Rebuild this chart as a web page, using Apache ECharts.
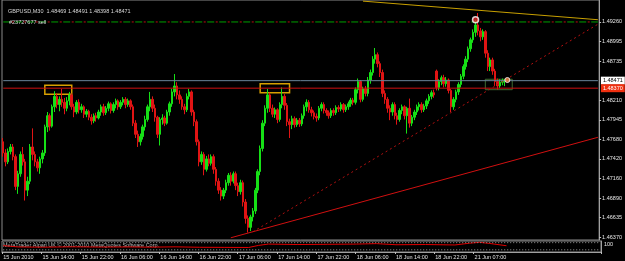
<!DOCTYPE html>
<html>
<head>
<meta charset="utf-8">
<script src="https://cdn.jsdelivr.net/npm/echarts@6/dist/echarts.min.js"></script>
<style>
    html, body {
        margin: 0;
        padding: 0;
        background: #000000;
    }
    .bar {
        width: 625px;
        height: 261px;
    }
</style>
</head>
<body>
<div class="bar" id="barRef"></div>
<script>
// GBPUSD M30 candles: [open, close, low, high]
var candles = [
    [1.4765, 1.4750, 1.4745, 1.4770], [1.4750, 1.4738, 1.4732, 1.4755], [1.4738, 1.4752, 1.4735, 1.4756], [1.4752, 1.4758, 1.4748, 1.4762],
    [1.4758, 1.4745, 1.4740, 1.4762], [1.4745, 1.4705, 1.4700, 1.4748], [1.4705, 1.4722, 1.4695, 1.4726], [1.4722, 1.4748, 1.4718, 1.4752],
    [1.4748, 1.4738, 1.4733, 1.4758], [1.4738, 1.4700, 1.4686, 1.4742], [1.4700, 1.4712, 1.4692, 1.4718], [1.4712, 1.4758, 1.4708, 1.4762],
    [1.4758, 1.4748, 1.4740, 1.4783], [1.4748, 1.4738, 1.4732, 1.4752], [1.4738, 1.4730, 1.4725, 1.4742], [1.4730, 1.4742, 1.4722, 1.4745],
    [1.4742, 1.4750, 1.4736, 1.4754], [1.4750, 1.4785, 1.4746, 1.4788], [1.4785, 1.4800, 1.4778, 1.4805], [1.4800, 1.4786, 1.4780, 1.4803],
    [1.4786, 1.4812, 1.4784, 1.4815], [1.4812, 1.4826, 1.4805, 1.4833], [1.4826, 1.4815, 1.4810, 1.4830], [1.4815, 1.4822, 1.4806, 1.4826],
    [1.4822, 1.4818, 1.4812, 1.4836], [1.4818, 1.4810, 1.4802, 1.4824], [1.4810, 1.4820, 1.4806, 1.4825], [1.4820, 1.4828, 1.4814, 1.4832],
    [1.4828, 1.4812, 1.4808, 1.4830], [1.4812, 1.4805, 1.4798, 1.4816], [1.4805, 1.4818, 1.4802, 1.4821], [1.4818, 1.4808, 1.4803, 1.4822],
    [1.4808, 1.4812, 1.4804, 1.4816], [1.4812, 1.4802, 1.4797, 1.4814], [1.4802, 1.4806, 1.4798, 1.4809], [1.4806, 1.4798, 1.4794, 1.4808],
    [1.4798, 1.4793, 1.4788, 1.4802], [1.4793, 1.4800, 1.4790, 1.4803], [1.4800, 1.4797, 1.4792, 1.4804], [1.4797, 1.4805, 1.4795, 1.4808],
    [1.4805, 1.4812, 1.4800, 1.4815], [1.4812, 1.4804, 1.4800, 1.4816], [1.4804, 1.4810, 1.4801, 1.4813], [1.4810, 1.4816, 1.4806, 1.4819],
    [1.4816, 1.4807, 1.4803, 1.4818], [1.4807, 1.4815, 1.4804, 1.4818], [1.4815, 1.4820, 1.4810, 1.4823], [1.4820, 1.4812, 1.4808, 1.4822],
    [1.4812, 1.4818, 1.4809, 1.4821], [1.4818, 1.4822, 1.4814, 1.4825], [1.4822, 1.4815, 1.4810, 1.4825], [1.4815, 1.4820, 1.4812, 1.4823],
    [1.4820, 1.4812, 1.4808, 1.4822], [1.4812, 1.4790, 1.4786, 1.4815], [1.4790, 1.4775, 1.4770, 1.4794], [1.4775, 1.4765, 1.4758, 1.4780],
    [1.4765, 1.4772, 1.4760, 1.4776], [1.4772, 1.4785, 1.4768, 1.4788], [1.4785, 1.4795, 1.4780, 1.4800], [1.4795, 1.4812, 1.4792, 1.4815],
    [1.4812, 1.4822, 1.4806, 1.4832], [1.4822, 1.4810, 1.4805, 1.4826], [1.4810, 1.4798, 1.4792, 1.4815], [1.4798, 1.4775, 1.4770, 1.4800],
    [1.4775, 1.4795, 1.4760, 1.4798], [1.4795, 1.4797, 1.4788, 1.4802], [1.4797, 1.4790, 1.4786, 1.4800], [1.4790, 1.4805, 1.4788, 1.4808],
    [1.4805, 1.4816, 1.4800, 1.4819], [1.4816, 1.4832, 1.4812, 1.4836], [1.4832, 1.4840, 1.4826, 1.4856], [1.4840, 1.4828, 1.4822, 1.4845],
    [1.4828, 1.4822, 1.4816, 1.4834], [1.4822, 1.4812, 1.4808, 1.4826], [1.4812, 1.4808, 1.4802, 1.4816], [1.4808, 1.4826, 1.4805, 1.4830],
    [1.4826, 1.4832, 1.4822, 1.4836], [1.4832, 1.4805, 1.4800, 1.4834], [1.4805, 1.4792, 1.4786, 1.4808], [1.4792, 1.4765, 1.4760, 1.4795],
    [1.4765, 1.4738, 1.4732, 1.4768], [1.4738, 1.4748, 1.4734, 1.4752], [1.4748, 1.4728, 1.4720, 1.4751], [1.4728, 1.4742, 1.4725, 1.4746],
    [1.4742, 1.4736, 1.4732, 1.4748], [1.4736, 1.4745, 1.4733, 1.4748], [1.4745, 1.4728, 1.4722, 1.4748], [1.4728, 1.4712, 1.4706, 1.4731],
    [1.4712, 1.4700, 1.4695, 1.4716], [1.4700, 1.4692, 1.4686, 1.4704], [1.4692, 1.4700, 1.4688, 1.4703], [1.4700, 1.4710, 1.4696, 1.4714],
    [1.4710, 1.4720, 1.4706, 1.4723], [1.4720, 1.4712, 1.4706, 1.4724], [1.4712, 1.4722, 1.4709, 1.4725], [1.4722, 1.4706, 1.4700, 1.4725],
    [1.4706, 1.4698, 1.4692, 1.4710], [1.4698, 1.4710, 1.4694, 1.4714], [1.4710, 1.4684, 1.4678, 1.4713], [1.4684, 1.4662, 1.4655, 1.4688],
    [1.4662, 1.4650, 1.4643, 1.4666], [1.4650, 1.4664, 1.4645, 1.4667], [1.4664, 1.4672, 1.4658, 1.4676], [1.4672, 1.4700, 1.4668, 1.4703],
    [1.4700, 1.4725, 1.4696, 1.4728], [1.4725, 1.4756, 1.4720, 1.4760], [1.4756, 1.4790, 1.4752, 1.4794], [1.4790, 1.4810, 1.4786, 1.4814],
    [1.4810, 1.4828, 1.4804, 1.4836], [1.4828, 1.4810, 1.4805, 1.4831], [1.4810, 1.4802, 1.4798, 1.4815], [1.4802, 1.4808, 1.4797, 1.4811],
    [1.4808, 1.4795, 1.4790, 1.4810], [1.4795, 1.4815, 1.4792, 1.4818], [1.4815, 1.4826, 1.4810, 1.4838], [1.4826, 1.4814, 1.4808, 1.4829],
    [1.4814, 1.4792, 1.4786, 1.4817], [1.4792, 1.4788, 1.4770, 1.4796], [1.4788, 1.4796, 1.4782, 1.4800], [1.4796, 1.4788, 1.4784, 1.4799],
    [1.4788, 1.4794, 1.4785, 1.4797], [1.4794, 1.4789, 1.4785, 1.4797], [1.4789, 1.4800, 1.4786, 1.4803], [1.4800, 1.4812, 1.4796, 1.4815],
    [1.4812, 1.4818, 1.4806, 1.4822], [1.4818, 1.4808, 1.4804, 1.4821], [1.4808, 1.4804, 1.4799, 1.4812], [1.4804, 1.4799, 1.4795, 1.4807],
    [1.4799, 1.4797, 1.4792, 1.4803], [1.4797, 1.4810, 1.4794, 1.4813], [1.4810, 1.4815, 1.4806, 1.4818], [1.4815, 1.4807, 1.4803, 1.4818],
    [1.4807, 1.4804, 1.4800, 1.4810], [1.4804, 1.4800, 1.4796, 1.4807], [1.4800, 1.4807, 1.4797, 1.4810], [1.4807, 1.4804, 1.4800, 1.4810],
    [1.4804, 1.4811, 1.4801, 1.4814], [1.4811, 1.4809, 1.4805, 1.4814], [1.4809, 1.4815, 1.4806, 1.4818], [1.4815, 1.4808, 1.4804, 1.4817],
    [1.4808, 1.4812, 1.4805, 1.4815], [1.4812, 1.4816, 1.4808, 1.4819], [1.4816, 1.4821, 1.4812, 1.4824], [1.4821, 1.4818, 1.4814, 1.4824],
    [1.4818, 1.4835, 1.4815, 1.4838], [1.4835, 1.4846, 1.4830, 1.4850], [1.4846, 1.4822, 1.4818, 1.4848], [1.4822, 1.4836, 1.4819, 1.4839],
    [1.4836, 1.4830, 1.4826, 1.4840], [1.4830, 1.4848, 1.4826, 1.4852], [1.4848, 1.4858, 1.4843, 1.4862], [1.4858, 1.4876, 1.4854, 1.4880],
    [1.4876, 1.4882, 1.4870, 1.4891], [1.4882, 1.4870, 1.4865, 1.4885], [1.4870, 1.4858, 1.4852, 1.4873], [1.4858, 1.4830, 1.4825, 1.4862],
    [1.4830, 1.4822, 1.4816, 1.4834], [1.4822, 1.4810, 1.4804, 1.4825], [1.4810, 1.4805, 1.4794, 1.4814], [1.4805, 1.4815, 1.4800, 1.4818],
    [1.4815, 1.4800, 1.4795, 1.4818], [1.4800, 1.4795, 1.4788, 1.4804], [1.4795, 1.4807, 1.4792, 1.4810], [1.4807, 1.4812, 1.4802, 1.4815],
    [1.4812, 1.4800, 1.4795, 1.4814], [1.4800, 1.4810, 1.4776, 1.4812], [1.4810, 1.4790, 1.4784, 1.4823], [1.4790, 1.4798, 1.4786, 1.4801],
    [1.4798, 1.4805, 1.4794, 1.4808], [1.4805, 1.4812, 1.4801, 1.4815], [1.4812, 1.4815, 1.4807, 1.4818], [1.4815, 1.4808, 1.4804, 1.4818],
    [1.4808, 1.4813, 1.4805, 1.4816], [1.4813, 1.4820, 1.4809, 1.4823], [1.4820, 1.4826, 1.4816, 1.4829], [1.4826, 1.4831, 1.4822, 1.4834],
    [1.4831, 1.4828, 1.4824, 1.4835], [1.4860, 1.4838, 1.4834, 1.4862], [1.4838, 1.4846, 1.4834, 1.4849], [1.4846, 1.4851, 1.4841, 1.4854],
    [1.4851, 1.4843, 1.4838, 1.4855], [1.4843, 1.4848, 1.4839, 1.4852], [1.4848, 1.4834, 1.4830, 1.4850], [1.4834, 1.4812, 1.4805, 1.4836],
    [1.4812, 1.4822, 1.4808, 1.4825], [1.4822, 1.4832, 1.4818, 1.4835], [1.4832, 1.4842, 1.4828, 1.4845], [1.4842, 1.4853, 1.4838, 1.4856],
    [1.4853, 1.4866, 1.4849, 1.4869], [1.4866, 1.4876, 1.4862, 1.4880], [1.4876, 1.4890, 1.4872, 1.4893], [1.4890, 1.4902, 1.4886, 1.4905],
    [1.4902, 1.4912, 1.4898, 1.4916], [1.4912, 1.4922, 1.4906, 1.4929], [1.4922, 1.4914, 1.4908, 1.4938], [1.4914, 1.4906, 1.4900, 1.4918],
    [1.4906, 1.4913, 1.4902, 1.4916], [1.4913, 1.4884, 1.4878, 1.4915], [1.4884, 1.4866, 1.4860, 1.4888], [1.4866, 1.4875, 1.4860, 1.4878],
    [1.4875, 1.4860, 1.4855, 1.4878], [1.4860, 1.4846, 1.4840, 1.4863], [1.4846, 1.4840, 1.4835, 1.4850], [1.4840, 1.4845, 1.4837, 1.4849],
    [1.4845, 1.4847, 1.4841, 1.4850], [1.48469, 1.48471, 1.48398, 1.48491]
];

// empty bars on the right (chart shift)
var shiftBars = 38;

// time scale labels, one every 16 bars
var tickLabels = ["15 Jun 2010", "15 Jun 14:00", "15 Jun 22:00", "16 Jun 06:00", "16 Jun 14:00", "16 Jun 22:00",
    "17 Jun 06:00", "17 Jun 14:00", "17 Jun 22:00", "18 Jun 06:00", "18 Jun 14:00", "18 Jun 22:00", "21 Jun 07:00"];
var barsPerTick = 16;

// price scale labels
var priceTicks = [1.46370, 1.46635, 1.46890, 1.47160, 1.47420, 1.47680, 1.47945, 1.48210, 1.48735, 1.48995, 1.49260];

var bidPrice = 1.48471;
var alertPrice = 1.48370;
var orderPrice = 1.49260;
var orderName = "#23727677 sell";

// trend lines [[bar, price], [bar, price]]
var yellowTrend = [[147, 1.4954], [243, 1.4929]];
var dottedTrend = [[102, 1.4644], [243, 1.4923]];
var redTrend = [[93, 1.4636], [243, 1.4771]];

// rectangles [[bar, price], [bar, price]]
var goldBoxes = [[[17, 1.4841], [28, 1.4829]], [[105, 1.4843], [117, 1.4831]]];
var greenBox = [[197, 1.4849], [208, 1.4835]];

// arrow marks
var orderMarks = [[193, 1.4929]];
var closeMarks = [[206, 1.4848]];

// lower window indicator [bar, value]
var indicator = [[0, 58], [6, 46], [16, 44], [28, 47], [40, 45], [52, 46], [60, 44], [70, 47], [80, 43], [90, 42],
    [100, 41], [104, 60], [108, 72], [120, 68], [132, 70], [144, 72], [152, 76], [160, 66], [172, 68], [184, 64],
    [190, 80], [194, 88], [198, 78], [205, 57]];
var indicatorLevels = [85, 20];

var titleText = "GBPUSD,M30  1.48469 1.48491 1.48398 1.48471";
var copyText = "MetaTrader Alpari UK \u00a9 2001-2010 MetaQuotes Software Corp.";

var categories = [];
for (var i = 0; i < candles.length + shiftBars; i++) {
    categories.push(i);
}
var lastCat = categories.length - 1;

var font = "Liberation Sans";
var fs = 5.5;

// a horizontal line across the whole main window
function hLine(price, lineStyle, extra) {
    var s = {
        type: 'line', xAxisIndex: 0, yAxisIndex: 0, silent: true,
        data: [[0, price], [lastCat, price]],
        symbol: 'none',
        lineStyle: lineStyle
    };
    for (var k in extra) s[k] = extra[k];
    return s;
}

var option = {
    backgroundColor: '#000000',
    animation: false,
    title: [
        {
            text: titleText, left: 3, top: 3,
            textStyle: { color: '#d8d8d8', fontSize: fs, fontWeight: 'normal', fontFamily: font }
        },
        {
            text: orderName, left: 4, top: 14,
            textStyle: { color: '#d8d8d8', fontSize: fs, fontWeight: 'normal', fontFamily: font }
        }
    ],
    graphic: [{
        type: 'text',
        left: 3,
        top: 242,
        style: { text: copyText, fill: '#b8b8b8', fontSize: fs, fontFamily: font }
    }],
    grid: [
        { left: 2, right: 24, top: 0, height: 240, show: true, borderColor: '#8a8a8a', borderWidth: 1 },
        { left: 2, right: 24, top: 241, height: 11, show: true, borderColor: '#8a8a8a', borderWidth: 1 }
    ],
    xAxis: [
        {
            type: 'category', gridIndex: 0, data: categories, boundaryGap: true,
            axisLine: { show: false }, axisTick: { show: false }, axisLabel: { show: false }
        },
        {
            type: 'category', gridIndex: 1, data: categories, boundaryGap: true,
            axisLine: { show: true, lineStyle: { color: '#a0a0a0' } },
            axisTick: {
                show: true, length: 2, lineStyle: { color: '#c0c0c0' },
                interval: function (idx) {
                    return idx % barsPerTick === 0 && idx / barsPerTick < tickLabels.length;
                }
            },
            axisLabel: {
                interval: 0, align: 'left', margin: 2, color: '#e0e0e0', fontSize: fs, fontFamily: font,
                formatter: function (v, idx) {
                    if (idx % barsPerTick !== 0) return '';
                    return tickLabels[idx / barsPerTick] || '';
                }
            }
        }
    ],
    yAxis: [
        {
            type: 'value', gridIndex: 0, position: 'right', min: 1.4633, max: 1.49555,
            splitLine: { show: false },
            axisLine: { show: true, lineStyle: { color: '#a0a0a0' } },
            axisTick: { show: true, length: 2, customValues: priceTicks, lineStyle: { color: '#c0c0c0' } },
            axisLabel: {
                customValues: priceTicks, margin: 3, color: '#e8e8e8', fontSize: fs, fontFamily: font,
                formatter: function (v) { return v.toFixed(5); }
            }
        },
        {
            type: 'value', gridIndex: 1, position: 'right', min: 0, max: 100,
            splitLine: { show: false },
            axisLine: { show: true, lineStyle: { color: '#a0a0a0' } },
            axisTick: { show: false },
            axisLabel: {
                customValues: [100], margin: 3, color: '#e8e8e8', fontSize: fs, fontFamily: font,
                verticalAlign: 'top'
            }
        }
    ],
    series: [
        hLine(orderPrice, { color: '#00a000', width: 1, type: [7, 5] }),
        hLine(orderPrice, { color: '#c01010', width: 1, type: [2, 10], dashOffset: -8.5 }),
        hLine(bidPrice, { color: '#6a8499', width: 1 }, {
            endLabel: {
                show: true, distance: 3, formatter: bidPrice.toFixed(5),
                backgroundColor: '#ffffff', color: '#000000', padding: [1, 2],
                fontSize: fs, fontFamily: font
            }
        }),
        hLine(alertPrice, { color: '#d01010', width: 1 }, {
            symbol: 'rect', symbolSize: 4, showSymbol: true,
            itemStyle: { color: '#f04030', borderColor: '#ffffff', borderWidth: 1 },
            endLabel: {
                show: true, distance: 3, formatter: alertPrice.toFixed(5),
                backgroundColor: '#f03010', color: '#ffffff', padding: [1, 2],
                fontSize: fs, fontFamily: font
            }
        }),
        {
            name: 'GBPUSD',
            type: 'candlestick',
            xAxisIndex: 0, yAxisIndex: 0,
            data: candles,
            barWidth: 2,
            itemStyle: {
                color: '#16e016', color0: '#e01414',
                borderColor: '#16e016', borderColor0: '#e01414', borderWidth: 1
            },
            markArea: {
                silent: true,
                data: goldBoxes.map(function (b) {
                    return [
                        { coord: b[0], itemStyle: { color: 'rgba(0,0,0,0)', borderColor: '#d8a000', borderWidth: 1.5 } },
                        { coord: b[1] }
                    ];
                }).concat([[
                    { coord: greenBox[0], itemStyle: { color: 'rgba(0,0,0,0)', borderColor: '#3c6a30', borderWidth: 1 } },
                    { coord: greenBox[1] }
                ]])
            }
        },
        {
            type: 'line', xAxisIndex: 0, yAxisIndex: 0, data: yellowTrend, symbol: 'none', silent: true,
            lineStyle: { color: '#c8a000', width: 1 }
        },
        {
            type: 'line', xAxisIndex: 0, yAxisIndex: 0, data: dottedTrend, symbol: 'none', silent: true,
            lineStyle: { color: '#b01010', width: 1, type: [2, 3] }
        },
        {
            type: 'line', xAxisIndex: 0, yAxisIndex: 0, data: redTrend, symbol: 'none', silent: true,
            lineStyle: { color: '#d01010', width: 1 }
        },
        {
            type: 'scatter', xAxisIndex: 0, yAxisIndex: 0, data: orderMarks, symbol: 'circle', symbolSize: 6,
            itemStyle: { color: '#e02828', borderColor: '#ffffff', borderWidth: 1.5 }, z: 5
        },
        {
            type: 'scatter', xAxisIndex: 0, yAxisIndex: 0, data: closeMarks, symbol: 'circle', symbolSize: 5,
            itemStyle: { color: '#f08040', borderColor: '#ffffff', borderWidth: 1 }, z: 5
        },
        {
            type: 'line', xAxisIndex: 1, yAxisIndex: 1, data: indicator, symbol: 'none', silent: true,
            lineStyle: { color: '#e00000', width: 1 }
        },
        {
            type: 'line', xAxisIndex: 1, yAxisIndex: 1, data: [[0, indicatorLevels[0]], [lastCat, indicatorLevels[0]]],
            symbol: 'none', silent: true, lineStyle: { color: '#9a9a9a', width: 1, type: [1, 2] }
        },
        {
            type: 'line', xAxisIndex: 1, yAxisIndex: 1, data: [[0, indicatorLevels[1]], [lastCat, indicatorLevels[1]]],
            symbol: 'none', silent: true, lineStyle: { color: '#9a9a9a', width: 1, type: [1, 2] }
        }
    ]
};

var myChart = echarts.init(document.getElementById('barRef'));
myChart.setOption(option);
</script>
</body>
</html>
